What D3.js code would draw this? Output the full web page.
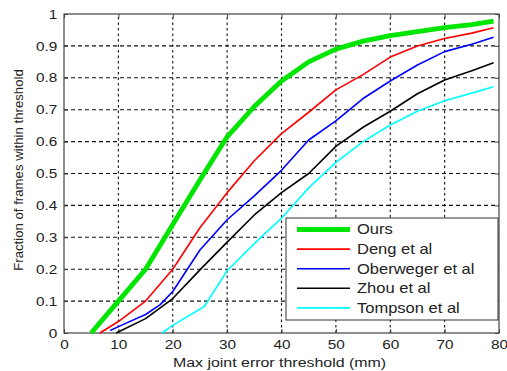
<!DOCTYPE html>
<html>
<head>
<meta charset="utf-8">
<script src="https://cdn.jsdelivr.net/npm/d3@7"></script>
<style>
  body { margin: 0; background: #fff; }
  svg { display: block; font-family: "Liberation Sans", Arial, sans-serif; }
</style>
</head>
<body>
<div id="chart"></div>
<script>
// Data: [threshold (mm), fraction]
const seriesNames = ['Ours', 'Deng et al', 'Oberweger et al', 'Zhou et al', 'Tompson et al'];
const seriesColors = ['#00e600', '#ff0000', '#0000ff', '#000000', '#00ffff'];

const ours = [[5, 0], [10, 0.1], [15, 0.2], [20, 0.34], [25, 0.48], [30, 0.615], [35, 0.71],
    [40, 0.79], [45, 0.85], [50, 0.89], [55, 0.915], [60, 0.932], [65, 0.945], [70, 0.957],
    [75, 0.967], [79, 0.978]];
const deng = [[6.6, 0], [10, 0.036], [15, 0.1], [20, 0.2], [25, 0.33], [30, 0.44], [35, 0.54],
    [40, 0.625], [45, 0.692], [50, 0.762], [55, 0.81], [60, 0.865], [65, 0.9], [70, 0.923],
    [75, 0.94], [79, 0.957]];
const oberweger = [[8.5, 0.008], [10, 0.02], [15, 0.058], [17.7, 0.089], [20, 0.13], [25, 0.26],
    [30, 0.355], [35, 0.43], [40, 0.51], [45, 0.605], [50, 0.665], [55, 0.735], [60, 0.79],
    [65, 0.84], [70, 0.882], [75, 0.905], [79, 0.927]];
const zhou = [[9.6, 0], [15, 0.045], [20, 0.108], [25, 0.198], [30, 0.285], [35, 0.37],
    [40, 0.44], [45, 0.5], [50, 0.585], [55, 0.645], [60, 0.695], [65, 0.75], [70, 0.793],
    [75, 0.822], [79, 0.847]];
const tompson = [[18, 0], [20, 0.024], [25.8, 0.083], [30, 0.195], [35, 0.28], [40, 0.36],
    [45, 0.455], [50, 0.535], [55, 0.6], [60, 0.652], [65, 0.695], [70, 0.728], [75, 0.752],
    [79, 0.772]];

const xTicks = [0, 10, 20, 30, 40, 50, 60, 70, 80];
const yTicks = [0, 0.1, 0.2, 0.3, 0.4, 0.5, 0.6, 0.7, 0.8, 0.9, 1];

const allSeries = [ours, deng, oberweger, zhou, tompson];

const width = 507, height = 371;
const margin = { top: 14, right: 8, bottom: 38, left: 64 };
// the source figure is slightly wider than tall, text is stretched sideways
const stretch = 1.18;

const svg = d3.select('#chart').append('svg')
    .attr('width', width)
    .attr('height', height);

const x = d3.scaleLinear().domain([0, 80]).range([margin.left, width - margin.right]);
const y = d3.scaleLinear().domain([0, 1]).range([height - margin.bottom, margin.top]);

// Grid lines (dotted, MATLAB style)
svg.append('g').selectAll('line')
    .data(xTicks.slice(1, -1))
    .join('line')
    .attr('x1', d => x(d)).attr('x2', d => x(d))
    .attr('y1', y(0)).attr('y2', y(1))
    .attr('stroke', '#111')
    .attr('stroke-width', 1.1)
    .attr('stroke-dasharray', '2.5,3');

svg.append('g').selectAll('line')
    .data(yTicks.slice(1, -1))
    .join('line')
    .attr('x1', x(0)).attr('x2', x(80))
    .attr('y1', d => y(d)).attr('y2', d => y(d))
    .attr('stroke', '#111')
    .attr('stroke-width', 1.1)
    .attr('stroke-dasharray', '4,3');

// Axes: ticks pointing inward, box on all sides
const axisColor = '#444';
const styleAxis = g => {
    g.select('.domain').remove();
    g.selectAll('.tick line').attr('stroke', axisColor);
    g.selectAll('.tick text')
        .attr('fill', '#222')
        .attr('font-size', '13px')
        .attr('transform', `scale(${stretch},1)`);
};

svg.append('g')
    .attr('transform', `translate(0,${y(0)})`)
    .call(d3.axisBottom(x).tickValues(xTicks).tickSize(-4).tickPadding(7))
    .call(styleAxis);

svg.append('g')
    .attr('transform', `translate(0,${y(1)})`)
    .call(d3.axisTop(x).tickValues(xTicks).tickSize(-4).tickFormat(''))
    .call(styleAxis);

svg.append('g')
    .attr('transform', `translate(${x(0)},0)`)
    .call(d3.axisLeft(y).tickValues(yTicks).tickSize(-4).tickPadding(5.7)
        .tickFormat(d => d === 0 || d === 1 ? d3.format('d')(d) : d3.format('.1f')(d)))
    .call(styleAxis);

svg.append('g')
    .attr('transform', `translate(${x(80)},0)`)
    .call(d3.axisRight(y).tickValues(yTicks).tickSize(-4).tickFormat(''))
    .call(styleAxis);

svg.append('rect')
    .attr('x', x(0)).attr('y', y(1))
    .attr('width', x(80) - x(0)).attr('height', y(0) - y(1))
    .attr('fill', 'none')
    .attr('stroke', axisColor)
    .attr('stroke-width', 1.2);

// Curves
const line = d3.line().x(d => x(d[0])).y(d => y(d[1]));

svg.append('g').selectAll('path')
    .data(allSeries)
    .join('path')
    .attr('d', line)
    .attr('fill', 'none')
    .attr('stroke', (d, i) => seriesColors[i])
    .attr('stroke-width', (d, i) => i === 0 ? 4.8 : 1.6)
    .attr('stroke-linejoin', 'round');

// Legend
const legend = svg.append('g').attr('transform', 'translate(286,218)');
legend.append('rect')
    .attr('width', 212).attr('height', 102)
    .attr('fill', '#fff')
    .attr('stroke', '#333')
    .attr('stroke-width', 1);

const rows = legend.selectAll('g')
    .data(seriesNames)
    .join('g')
    .attr('transform', (d, i) => `translate(0,${11.5 + i * 19.6})`);

rows.append('line')
    .attr('x1', 11).attr('x2', 64)
    .attr('stroke', (d, i) => seriesColors[i])
    .attr('stroke-width', (d, i) => i === 0 ? 4.8 : 1.6);

rows.append('text')
    .attr('transform', `translate(71,0) scale(${stretch},1)`)
    .attr('dy', '0.35em')
    .attr('font-size', '14px')
    .attr('fill', '#222')
    .text(d => d);

// Axis labels
svg.append('text')
    .attr('transform', `translate(279.5,367) scale(${stretch},1)`)
    .attr('text-anchor', 'middle')
    .attr('font-size', '13.5px')
    .attr('fill', '#222')
    .text('Max joint error threshold (mm)');

svg.append('text')
    .attr('transform', `translate(22.5,170) rotate(-90)`)
    .attr('text-anchor', 'middle')
    .attr('font-size', '13.2px')
    .attr('fill', '#222')
    .text('Fraction of frames within threshold');
</script>
</body>
</html>
